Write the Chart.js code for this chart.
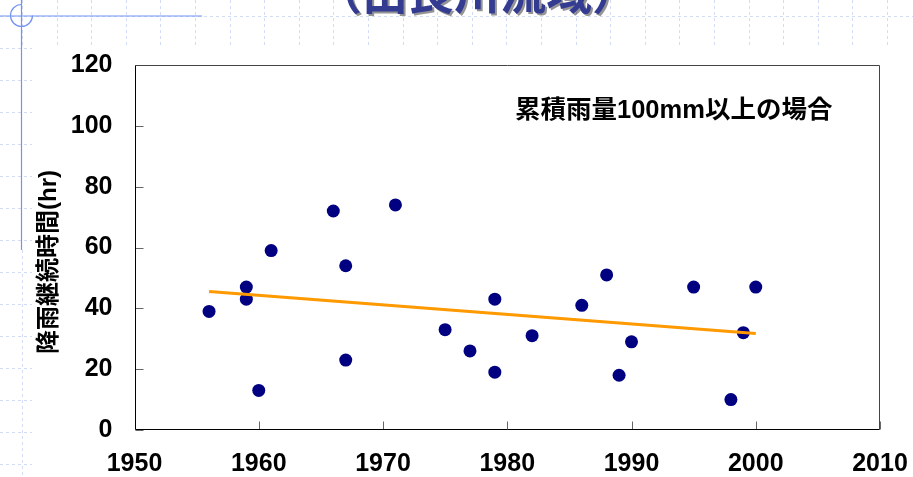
<!DOCTYPE html>
<html lang="ja">
<head>
<meta charset="utf-8">
<title>降雨継続時間</title>
<script src="https://cdn.jsdelivr.net/npm/chart.js@4.4.1/dist/chart.umd.min.js"></script>
<style>
  html, body { margin: 0; padding: 0; background: #fff; overflow: hidden; }
  #wrap { width: 913px; height: 477px; }
</style>
</head>
<body>
<div id="wrap"><canvas id="chart" width="913" height="477"></canvas></div>
<script>
// Years of each event and its rainfall duration (hr)
const years = [1956, 1959, 1959, 1960, 1961, 1966, 1967, 1967, 1971, 1975, 1977,
               1979, 1979, 1982, 1986, 1988, 1989, 1990, 1995, 1998, 1999, 2000];
const hours = [39, 47, 43, 13, 59, 72, 54, 23, 74, 33, 26,
               43, 19, 31, 41, 51, 18, 29, 47, 10, 32, 47];

// Trend line end points
const trendYears = [1956, 2000];
const trendHours = [45.5, 31.7];

// Axis ticks
const xTicks = [1950, 1960, 1970, 1980, 1990, 2000, 2010];
const yTicks = [0, 20, 40, 60, 80, 100, 120];

const pageTitle = '（由良川流域）';
const yTitle = '降雨継続時間(hr)';
const noteText = '累積雨量100mm以上の場合';

const LATIN_CJK = "'Liberation Sans', Arial, 'Noto Sans CJK JP', sans-serif";

// Slide backdrop: dashed guide grid, blue rule lines and the clipped heading
const slideBackdrop = {
  id: 'slideBackdrop',
  beforeDraw(chart) {
    const ctx = chart.ctx;
    const W = chart.width, H = chart.height;
    ctx.save();
    ctx.fillStyle = '#ffffff';
    ctx.fillRect(0, 0, W, H);

    ctx.strokeStyle = '#d3dcf6';
    ctx.lineWidth = 1;
    ctx.setLineDash([3, 3]);
    // vertical guides in the top band
    for (let x = 22; x < W; x += 34.6) {
      ctx.beginPath();
      ctx.moveTo(Math.round(x) + 0.5, 0);
      ctx.lineTo(Math.round(x) + 0.5, 48);
      ctx.stroke();
    }
    // horizontal guide across the top
    ctx.beginPath();
    ctx.moveTo(0, 16.5);
    ctx.lineTo(W, 16.5);
    ctx.stroke();
    // left strip guides
    for (let y = 48; y < H; y += 32) {
      ctx.beginPath();
      ctx.moveTo(0, y + 0.5);
      ctx.lineTo(32, y + 0.5);
      ctx.stroke();
    }
    ctx.beginPath();
    ctx.moveTo(22.5, 250);
    ctx.lineTo(22.5, H);
    ctx.stroke();
    ctx.setLineDash([]);

    // blue rule lines and ring
    ctx.strokeStyle = '#7393f0';
    ctx.lineWidth = 1.2;
    ctx.beginPath();
    ctx.moveTo(0, 16);
    ctx.lineTo(202, 16);
    ctx.moveTo(21.5, 0);
    ctx.lineTo(21.5, 250);
    ctx.stroke();
    ctx.beginPath();
    ctx.arc(21.5, 15.5, 11, 0, Math.PI * 1.5);
    ctx.stroke();

    // heading (only its lower part falls inside the page)
    ctx.font = "bold 46px 'Noto Sans CJK JP', sans-serif";
    ctx.textAlign = 'center';
    ctx.textBaseline = 'alphabetic';
    ctx.shadowColor = 'rgba(60,60,60,0.55)';
    ctx.shadowOffsetX = 2;
    ctx.shadowOffsetY = 2;
    ctx.fillStyle = '#343c92';
    ctx.fillText(pageTitle, 477, 9);
    ctx.restore();
  }
};

// Plot frame, inward tick marks, axis title and note
const frameAndText = {
  id: 'frameAndText',
  beforeDatasetsDraw(chart) {
    const { ctx, chartArea: a, scales } = chart;
    ctx.save();
    const L = Math.round(a.left) + 0.5, R = Math.round(a.right) - 0.5;
    const T = Math.round(a.top) + 0.5, B = Math.round(a.bottom) - 0.5;

    // inward tick marks
    ctx.strokeStyle = '#666';
    ctx.lineWidth = 1;
    ctx.beginPath();
    xTicks.forEach(v => {
      const x = Math.round(scales.x.getPixelForValue(v)) + 0.5;
      ctx.moveTo(x, B);
      ctx.lineTo(x, B - 8);
    });
    yTicks.forEach(v => {
      const y = Math.round(scales.y.getPixelForValue(v)) + 0.5;
      ctx.moveTo(L, y);
      ctx.lineTo(L + 8, y);
    });
    ctx.stroke();

    // frame
    ctx.lineWidth = 1;
    ctx.strokeStyle = '#444';
    ctx.beginPath();
    ctx.moveTo(L, T);
    ctx.lineTo(R, T);
    ctx.lineTo(R, B);
    ctx.stroke();
    ctx.strokeStyle = '#000';
    ctx.beginPath();
    ctx.moveTo(L, T);
    ctx.lineTo(L, B);
    ctx.lineTo(R, B);
    ctx.stroke();

    // note inside the plot
    ctx.fillStyle = '#000';
    ctx.font = 'bold 25.5px ' + LATIN_CJK;
    ctx.textAlign = 'left';
    ctx.textBaseline = 'middle';
    ctx.fillText(noteText, 515, 111);

    // vertical axis title
    ctx.font = 'bold 24px ' + LATIN_CJK;
    ctx.translate(49, 262);
    ctx.rotate(-Math.PI / 2);
    ctx.textAlign = 'center';
    ctx.fillText(yTitle, 0, 0);
    ctx.restore();
  }
};

const tickFont = { family: LATIN_CJK, size: 25, weight: 'bold' };

new Chart(document.getElementById('chart'), {
  type: 'scatter',
  data: {
    datasets: [
      {
        label: '傾向',
        type: 'line',
        data: trendYears.map((x, i) => ({ x, y: trendHours[i] })),
        borderColor: '#ff9900',
        borderWidth: 3,
        pointRadius: 0,
        fill: false,
        order: 0
      },
      {
        label: '降雨継続時間',
        data: years.map((x, i) => ({ x, y: hours[i] })),
        backgroundColor: '#000080',
        borderColor: '#000080',
        borderWidth: 0,
        pointRadius: 6.5,
        order: 1
      }
    ]
  },
  options: {
    responsive: false,
    animation: false,
    devicePixelRatio: 1,
    layout: { padding: { top: 65, right: 33, left: 0, bottom: 0 } },
    plugins: { legend: { display: false }, tooltip: { enabled: false } },
    scales: {
      x: {
        type: 'linear',
        min: xTicks[0],
        max: xTicks[xTicks.length - 1],
        afterBuildTicks(s) { s.ticks = xTicks.map(v => ({ value: v })); },
        ticks: {
          color: '#000', font: tickFont, padding: 19,
          maxRotation: 0, autoSkip: false,
          callback: v => String(v)
        },
        grid: { display: false, drawTicks: false },
        border: { display: false },
        afterFit(s) { s.height = 47; s.paddingLeft = 0; s.paddingRight = 0; }
      },
      y: {
        min: yTicks[0],
        max: yTicks[yTicks.length - 1],
        afterBuildTicks(s) { s.ticks = yTicks.map(v => ({ value: v })); },
        ticks: { color: '#000', font: tickFont, padding: 22, autoSkip: false },
        grid: { display: false, drawTicks: false },
        border: { display: false },
        afterFit(s) { s.width = 134.5; s.paddingTop = 0; s.paddingBottom = 0; }
      }
    }
  },
  plugins: [slideBackdrop, frameAndText]
});
</script>
</body>
</html>
